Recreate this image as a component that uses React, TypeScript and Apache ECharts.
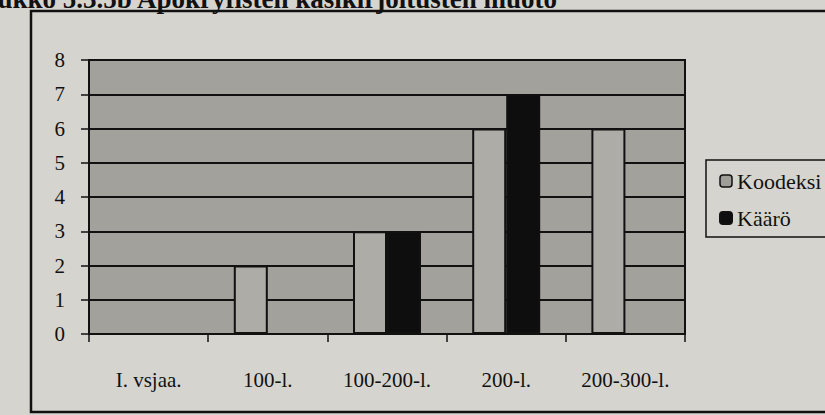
import React, { useEffect, useRef } from "react";
import * as echarts from "echarts";

const categories = ["I. vsjaa.", "100-l.", "100-200-l.", "200-l.", "200-300-l."];
const koodeksi = [0, 2, 3, 6, 6];
const kaaro = [0, 0, 3, 7, 0];
const seriesNames = ["Koodeksi", "Käärö"];
const titleText = "Taulukko 5.3.5b Apokryfisten käsikirjoitusten muoto";

const SERIF = "'Liberation Serif', 'DejaVu Serif', serif";

export default function App() {
  const ref = useRef<HTMLDivElement>(null);
  useEffect(() => {
    if (!ref.current) return;
    const chart = echarts.init(ref.current, null, { renderer: "svg" });
    chart.setOption({
      animation: false,
      backgroundColor: "#d6d4cf",
      graphic: [
        {
          type: "rect",
          shape: { x: 31, y: 11, width: 900, height: 401 },
          style: { fill: "none", stroke: "#111", lineWidth: 2.5 },
          z: 0,
        },
        {
          type: "text",
          x: 557,
          y: -15,
          style: {
            text: titleText,
            font: `bold 27px ${SERIF}`,
            fill: "#111",
            align: "right",
            verticalAlign: "top",
          },
        },
      ],
      legend: {
        orient: "vertical",
        left: 706,
        top: 160,
        padding: [10, 40, 8, 13],
        itemGap: 15,
        itemWidth: 12,
        itemHeight: 12,
        borderColor: "#111",
        borderWidth: 1.5,
        backgroundColor: "#d6d4cf",
        textStyle: { fontFamily: SERIF, fontSize: 22, color: "#111", lineHeight: 22 },
        data: [
          { name: seriesNames[0], itemStyle: { color: "#9f9d97", borderColor: "#111", borderWidth: 1.5 } },
          { name: seriesNames[1], itemStyle: { color: "#0e0e0e" } },
        ],
      },
      grid: {
        left: 89,
        top: 60,
        right: 140,
        bottom: 81,
        show: true,
        backgroundColor: "#a3a19b",
        borderColor: "#111",
        borderWidth: 2,
      },
      xAxis: {
        type: "category",
        data: categories,
        axisLine: { show: true, lineStyle: { color: "#111", width: 2 } },
        axisTick: { show: true, alignWithLabel: false, length: 8, lineStyle: { color: "#111", width: 1.5 } },
        axisLabel: { fontFamily: SERIF, fontSize: 21, color: "#111", margin: 35 },
      },
      yAxis: {
        type: "value",
        min: 0,
        max: 8,
        interval: 1,
        axisLine: { show: true, lineStyle: { color: "#111", width: 2 } },
        axisTick: { show: true, length: 8, lineStyle: { color: "#111", width: 1.5 } },
        axisLabel: { fontFamily: SERIF, fontSize: 21, color: "#111", margin: 24 },
        splitLine: { show: true, lineStyle: { color: "#111", width: 2 } },
      },
      series: [
        {
          name: seriesNames[0],
          type: "bar",
          data: koodeksi,
          barWidth: 34,
          barGap: "0%",
          itemStyle: { color: "#aeaca6", borderColor: "#111", borderWidth: 2 },
        },
        {
          name: seriesNames[1],
          type: "bar",
          data: kaaro,
          barWidth: 34,
          barGap: "0%",
          itemStyle: { color: "#0e0e0e", borderColor: "#111", borderWidth: 2 },
        },
      ],
    });
    return () => chart.dispose();
  }, []);
  return (
    <div
      ref={ref}
      style={{ position: "fixed", left: 0, top: 0, width: 825, height: 415 }}
    />
  );
}
